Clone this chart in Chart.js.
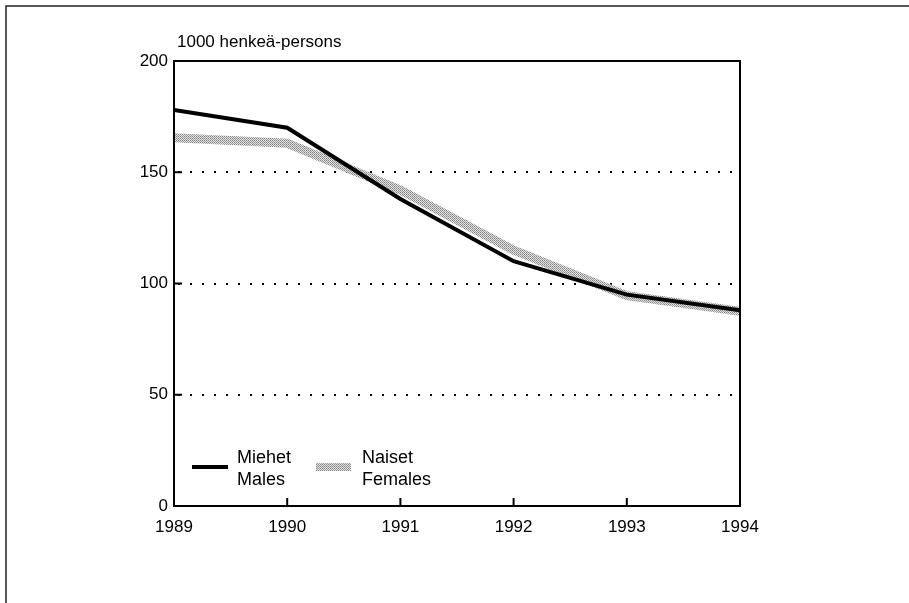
<!DOCTYPE html>
<html>
<head>
<meta charset="utf-8">
<script src="https://cdn.jsdelivr.net/npm/chart.js@4/dist/chart.umd.min.js"></script>
<style>
  body { margin: 0; background: #fff; }
  canvas { display: block; }
</style>
</head>
<body>
<canvas id="chart" width="909" height="603"></canvas>
<script>
// values (1000 persons)
const years = [1989, 1990, 1991, 1992, 1993, 1994];
const males = [178, 170, 138, 110, 95, 88];
const females = [165.5, 163, 142, 115, 94.5, 87.5];
const yTicks = [0, 50, 100, 150, 200];
const unitLabel = '1000 henkeä-persons';
const maleLabel = ['Miehet', 'Males'];
const femaleLabel = ['Naiset', 'Females'];

const FONT = '"Liberation Sans", Arial, sans-serif';

// grainy grey fill like the print screen
function greyPattern(ctx) {
  const p = document.createElement('canvas');
  p.width = 2; p.height = 2;
  const c = p.getContext('2d');
  c.fillStyle = '#e0e0e0'; c.fillRect(0, 0, 2, 2);
  c.fillStyle = '#848484'; c.fillRect(0, 0, 1, 1);
  c.fillStyle = '#a0a0a0'; c.fillRect(1, 1, 1, 1);
  return ctx.createPattern(p, 'repeat');
}

const canvas = document.getElementById('chart');
const ctx = canvas.getContext('2d');
const grain = greyPattern(ctx);

const framePlugin = {
  id: 'frame',
  afterDraw(chart) {
    const { ctx, chartArea: a, scales } = chart;
    ctx.save();
    // outer page frame (left + top)
    ctx.strokeStyle = '#222';
    ctx.lineWidth = 1.5;
    ctx.beginPath();
    ctx.moveTo(6, 603); ctx.lineTo(6, 6); ctx.lineTo(909, 6);
    ctx.stroke();

    // plot box
    ctx.strokeStyle = '#000';
    ctx.lineWidth = 2;
    ctx.strokeRect(a.left, a.top, a.right - a.left, a.bottom - a.top);

    // inner ticks
    ctx.beginPath();
    years.slice(1, -1).forEach(y => {
      const px = scales.x.getPixelForValue(y);
      ctx.moveTo(px, a.bottom); ctx.lineTo(px, a.bottom - 8);
    });
    yTicks.slice(1, -1).forEach(v => {
      const py = scales.y.getPixelForValue(v);
      ctx.moveTo(a.left, py); ctx.lineTo(a.left + 8, py);
    });
    ctx.stroke();

    // unit label
    ctx.fillStyle = '#000';
    ctx.font = '17px ' + FONT;
    ctx.textBaseline = 'alphabetic';
    ctx.textAlign = 'left';
    ctx.fillText(unitLabel, 177, 47);

    // legend
    ctx.lineWidth = 4;
    ctx.beginPath();
    ctx.moveTo(192, 467); ctx.lineTo(228, 467);
    ctx.stroke();
    ctx.fillStyle = grain;
    ctx.fillRect(316, 463, 35, 8);
    ctx.fillStyle = '#000';
    ctx.font = '18px ' + FONT;
    ctx.fillText(maleLabel[0], 237, 463);
    ctx.fillText(maleLabel[1], 237, 485);
    ctx.fillText(femaleLabel[0], 362, 463);
    ctx.fillText(femaleLabel[1], 362, 485);
    ctx.restore();
  }
};

new Chart(ctx, {
  type: 'line',
  data: {
    datasets: [{
      label: maleLabel.join(' '),
      data: years.map((x, i) => ({ x, y: males[i] })),
      borderColor: '#000',
      borderWidth: 4,
      pointRadius: 0,
      tension: 0,
      fill: false
    }, {
      label: femaleLabel.join(' '),
      data: years.map((x, i) => ({ x, y: females[i] })),
      borderColor: grain,
      borderWidth: 9,
      pointRadius: 0,
      tension: 0,
      fill: false
    }]
  },
  options: {
    responsive: false,
    animation: false,
    devicePixelRatio: 1,
    layout: { padding: { top: 61, right: 169, left: 0, bottom: 0 } },
    plugins: { legend: { display: false }, tooltip: { enabled: false } },
    scales: {
      x: {
        type: 'linear',
        min: 1989,
        max: 1994,
        afterFit(scale) { scale.height = 97; },
        ticks: {
          stepSize: 1,
          color: '#000',
          font: { family: FONT, size: 17 },
          padding: 11,
          maxRotation: 0,
          callback: v => String(v)
        },
        grid: { display: false, drawTicks: false },
        border: { display: false }
      },
      y: {
        min: 0,
        max: 200,
        afterFit(scale) { scale.width = 174; },
        ticks: {
          stepSize: 50,
          color: '#000',
          font: { family: FONT, size: 17 },
          padding: 6
        },
        grid: {
          drawTicks: false,
          lineWidth: 2,
          color: c => (c.tick && c.tick.value > 0 && c.tick.value < 200) ? '#000' : 'rgba(0,0,0,0)'
        },
        border: { display: false, dash: [2, 10], dashOffset: -4 }
      }
    }
  },
  plugins: [framePlugin]
});
</script>
</body>
</html>
